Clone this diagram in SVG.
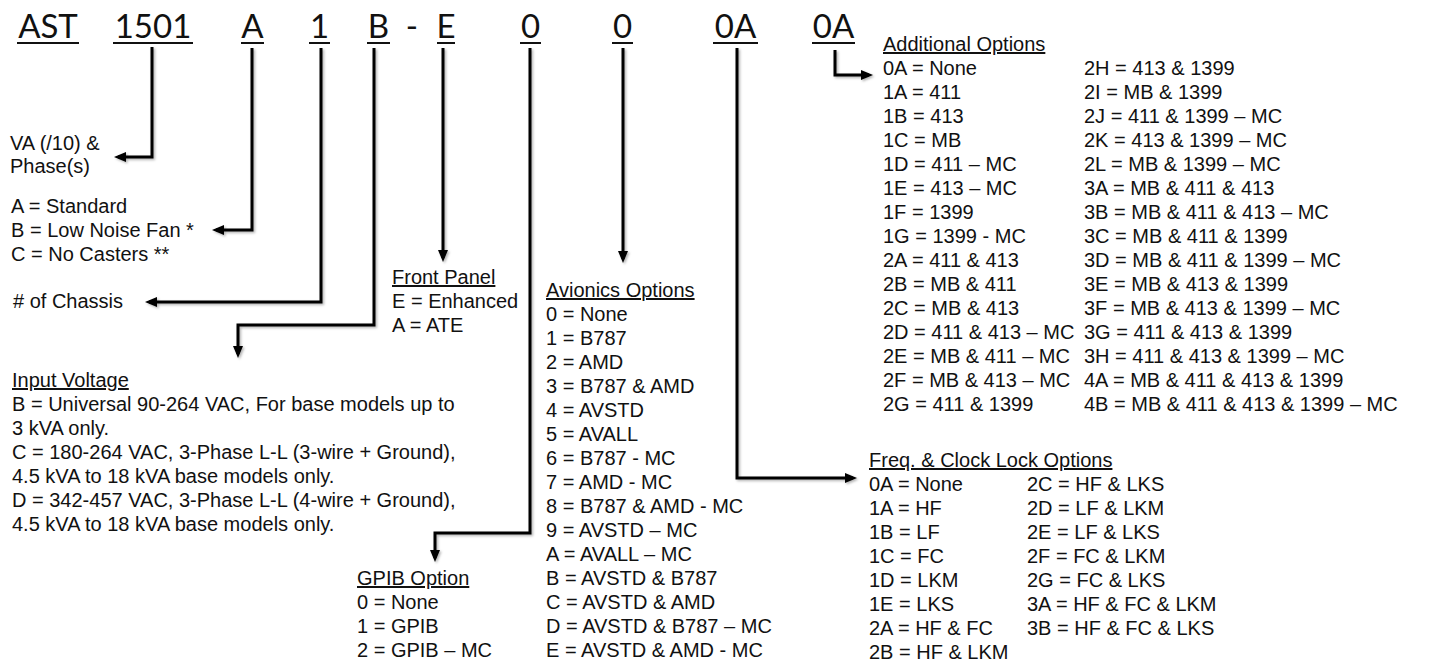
<svg xmlns="http://www.w3.org/2000/svg" width="1439" height="665" viewBox="0 0 1439 665">
<style>
.hd{font-family:Lato,"Liberation Sans",sans-serif;font-size:33px;fill:#111;text-anchor:middle}
.t{font-family:"Liberation Sans",Arial,sans-serif;font-size:20px;fill:#111}
.u{text-decoration:underline}
.ul{stroke:#111;stroke-width:2}
.c{fill:none;stroke:#000;stroke-width:3}
</style>
<defs>
<marker id="ah" markerUnits="userSpaceOnUse" markerWidth="12" markerHeight="10" viewBox="0 0 12 10" refX="8" refY="5" orient="auto">
<path d="M0,0 L12,5 L0,10 z" fill="#000"/>
</marker>
<filter id="sh" x="-5%" y="-5%" width="110%" height="110%">
<feDropShadow dx="1.5" dy="1.5" stdDeviation="1.2" flood-color="#000" flood-opacity="0.3"/>
</filter>
</defs>
<rect width="1439" height="665" fill="#fff"/>

<g id="header">
<text class="hd" x="48" y="38">AST</text><line class="ul" x1="17" y1="43" x2="79" y2="43"/>
<text class="hd" x="153" y="38">1501</text><line class="ul" x1="113" y1="43" x2="193" y2="43"/>
<text class="hd" x="252.5" y="38">A</text><line class="ul" x1="241" y1="43" x2="264" y2="43"/>
<text class="hd" x="319.5" y="38">1</text><line class="ul" x1="309" y1="43" x2="330" y2="43"/>
<text class="hd" x="378.5" y="38">B</text><line class="ul" x1="367" y1="43" x2="390" y2="43"/>
<text class="hd" x="412" y="38">-</text>
<text class="hd" x="446" y="38">E</text><line class="ul" x1="437" y1="43" x2="455" y2="43"/>
<text class="hd" x="530.5" y="38">0</text><line class="ul" x1="520" y1="43" x2="541" y2="43"/>
<text class="hd" x="622.5" y="38">0</text><line class="ul" x1="612" y1="43" x2="633" y2="43"/>
<text class="hd" x="735.5" y="38">0A</text><line class="ul" x1="713" y1="43" x2="758" y2="43"/>
<text class="hd" x="833.5" y="38">0A</text><line class="ul" x1="812" y1="43" x2="855" y2="43"/>
</g>

<g id="connectors" filter="url(#sh)">
<path class="c" d="M152,47 V157 H118" marker-end="url(#ah)"/>
<path class="c" d="M252,48 V230 H216" marker-end="url(#ah)"/>
<path class="c" d="M321,48 V302 H149" marker-end="url(#ah)"/>
<path class="c" d="M374,48 V325 H238 V354" marker-end="url(#ah)"/>
<path class="c" d="M443,48 V258" marker-end="url(#ah)"/>
<path class="c" d="M530,48 V533 H435 V558" marker-end="url(#ah)"/>
<path class="c" d="M623,48 V259" marker-end="url(#ah)"/>
<path class="c" d="M737,48 V478 H853" marker-end="url(#ah)"/>
<path class="c" d="M835,50 V75 H869" marker-end="url(#ah)"/>
</g>

<g id="va">
<text class="t" x="10" y="150">VA (/10) &amp;</text>
<text class="t" x="10" y="173">Phase(s)</text>
</g>

<g id="fan">
<text class="t" x="11" y="213">A = Standard</text>
<text class="t" x="11" y="237">B = Low Noise Fan *</text>
<text class="t" x="11" y="261">C = No Casters **</text>
</g>

<g id="chassis">
<text class="t" x="13" y="308"># of Chassis</text>
</g>

<g id="input-voltage">
<text class="t u" x="12" y="387">Input Voltage</text>
<text class="t" x="12" y="411">B = Universal 90-264 VAC, For base models up to</text>
<text class="t" x="12" y="435">3 kVA only.</text>
<text class="t" x="12" y="459">C = 180-264 VAC, 3-Phase L-L (3-wire + Ground),</text>
<text class="t" x="12" y="483">4.5 kVA to 18 kVA base models only.</text>
<text class="t" x="12" y="507">D = 342-457 VAC, 3-Phase L-L (4-wire + Ground),</text>
<text class="t" x="12" y="531">4.5 kVA to 18 kVA base models only.</text>
</g>

<g id="front-panel">
<text class="t u" x="392" y="284">Front Panel</text>
<text class="t" x="392" y="308">E = Enhanced</text>
<text class="t" x="392" y="332">A = ATE</text>
</g>

<g id="gpib">
<text class="t u" x="357" y="585">GPIB Option</text>
<text class="t" x="357" y="609">0 = None</text>
<text class="t" x="357" y="633">1 = GPIB</text>
<text class="t" x="357" y="657">2 = GPIB – MC</text>
</g>

<g id="avionics">
<text class="t u" x="546" y="297">Avionics Options</text>
<text class="t" x="546" y="321">0 = None</text>
<text class="t" x="546" y="345">1 = B787</text>
<text class="t" x="546" y="369">2 = AMD</text>
<text class="t" x="546" y="393">3 = B787 &amp; AMD</text>
<text class="t" x="546" y="417">4 = AVSTD</text>
<text class="t" x="546" y="441">5 = AVALL</text>
<text class="t" x="546" y="465">6 = B787 - MC</text>
<text class="t" x="546" y="489">7 = AMD - MC</text>
<text class="t" x="546" y="513">8 = B787 &amp; AMD - MC</text>
<text class="t" x="546" y="537">9 = AVSTD – MC</text>
<text class="t" x="546" y="561">A = AVALL – MC</text>
<text class="t" x="546" y="585">B = AVSTD &amp; B787</text>
<text class="t" x="546" y="609">C = AVSTD &amp; AMD</text>
<text class="t" x="546" y="633">D = AVSTD &amp; B787 – MC</text>
<text class="t" x="546" y="657">E = AVSTD &amp; AMD - MC</text>
</g>

<g id="additional">
<text class="t u" x="883" y="51">Additional Options</text>
<text class="t" x="883" y="75">0A = None</text>
<text class="t" x="883" y="99">1A = 411</text>
<text class="t" x="883" y="123">1B = 413</text>
<text class="t" x="883" y="147">1C = MB</text>
<text class="t" x="883" y="171">1D = 411 – MC</text>
<text class="t" x="883" y="195">1E = 413 – MC</text>
<text class="t" x="883" y="219">1F = 1399</text>
<text class="t" x="883" y="243">1G = 1399 - MC</text>
<text class="t" x="883" y="267">2A = 411 &amp; 413</text>
<text class="t" x="883" y="291">2B = MB &amp; 411</text>
<text class="t" x="883" y="315">2C = MB &amp; 413</text>
<text class="t" x="883" y="339">2D = 411 &amp; 413 – MC</text>
<text class="t" x="883" y="363">2E = MB &amp; 411 – MC</text>
<text class="t" x="883" y="387">2F = MB &amp; 413 – MC</text>
<text class="t" x="883" y="411">2G = 411 &amp; 1399</text>
<text class="t" x="1084" y="75">2H = 413 &amp; 1399</text>
<text class="t" x="1084" y="99">2I = MB &amp; 1399</text>
<text class="t" x="1084" y="123">2J = 411 &amp; 1399 – MC</text>
<text class="t" x="1084" y="147">2K = 413 &amp; 1399 – MC</text>
<text class="t" x="1084" y="171">2L = MB &amp; 1399 – MC</text>
<text class="t" x="1084" y="195">3A = MB &amp; 411 &amp; 413</text>
<text class="t" x="1084" y="219">3B = MB &amp; 411 &amp; 413 – MC</text>
<text class="t" x="1084" y="243">3C = MB &amp; 411 &amp; 1399</text>
<text class="t" x="1084" y="267">3D = MB &amp; 411 &amp; 1399 – MC</text>
<text class="t" x="1084" y="291">3E = MB &amp; 413 &amp; 1399</text>
<text class="t" x="1084" y="315">3F = MB &amp; 413 &amp; 1399 – MC</text>
<text class="t" x="1084" y="339">3G = 411 &amp; 413 &amp; 1399</text>
<text class="t" x="1084" y="363">3H = 411 &amp; 413 &amp; 1399 – MC</text>
<text class="t" x="1084" y="387">4A = MB &amp; 411 &amp; 413 &amp; 1399</text>
<text class="t" x="1084" y="411">4B = MB &amp; 411 &amp; 413 &amp; 1399 – MC</text>
</g>

<g id="freq-clock">
<text class="t u" x="869" y="467">Freq. &amp; Clock Lock Options</text>
<text class="t" x="869" y="491">0A = None</text>
<text class="t" x="869" y="515">1A = HF</text>
<text class="t" x="869" y="539">1B = LF</text>
<text class="t" x="869" y="563">1C = FC</text>
<text class="t" x="869" y="587">1D = LKM</text>
<text class="t" x="869" y="611">1E = LKS</text>
<text class="t" x="869" y="635">2A = HF &amp; FC</text>
<text class="t" x="869" y="659">2B = HF &amp; LKM</text>
<text class="t" x="1027" y="491">2C = HF &amp; LKS</text>
<text class="t" x="1027" y="515">2D = LF &amp; LKM</text>
<text class="t" x="1027" y="539">2E = LF &amp; LKS</text>
<text class="t" x="1027" y="563">2F = FC &amp; LKM</text>
<text class="t" x="1027" y="587">2G = FC &amp; LKS</text>
<text class="t" x="1027" y="611">3A = HF &amp; FC &amp; LKM</text>
<text class="t" x="1027" y="635">3B = HF &amp; FC &amp; LKS</text>
</g>
</svg>
